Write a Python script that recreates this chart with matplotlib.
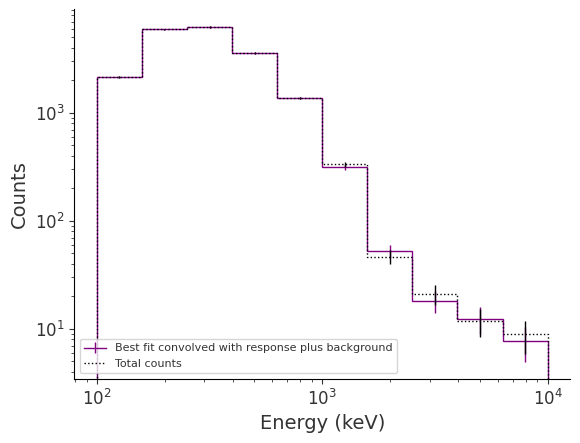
import numpy as np
import matplotlib
matplotlib.use("Agg")
import matplotlib.pyplot as plt
from matplotlib.lines import Line2D

# energy bins (keV), 5 per decade
bin_edges = [100, 158.5, 251.2, 398.1, 631.0, 1000, 1584.9, 2511.9, 3981.1, 6309.6, 10000]
bin_centers = [125.9, 199.5, 316.2, 501.2, 794.3, 1258.9, 1995.3, 3162.3, 5011.9, 7943.3]

# counts
model_counts = [2140, 5960, 6250, 3590, 1370, 314, 53, 18.2, 12.4, 7.7]
model_err = [46, 77, 79, 60, 37, 17.7, 7.3, 4.3, 3.5, 2.8]
total_counts = [2140, 5960, 6250, 3590, 1370, 335, 46.7, 21.1, 11.8, 8.9]
total_err = [46, 77, 79, 60, 37, 18.3, 6.8, 4.6, 3.4, 3.0]

plt.rcParams['text.color'] = '.2'
plt.rcParams['axes.labelcolor'] = '.2'
plt.rcParams['xtick.color'] = '.2'
plt.rcParams['ytick.color'] = '.2'

fig = plt.figure(figsize=(5.8, 4.43), dpi=100)
ax = fig.add_axes([0.128, 0.1445, 0.855, 0.8355])

ax.stairs(model_counts, bin_edges, baseline=1e-2, color='purple', lw=1)
eb_model = ax.errorbar(bin_centers, model_counts, yerr=model_err, fmt='none',
                       ecolor='purple', elinewidth=1)
ax.stairs(total_counts, bin_edges, baseline=1e-2, color='k', ls=':', lw=1)
ax.errorbar(bin_centers, total_counts, yerr=total_err, fmt='none', ecolor='k', elinewidth=1)

ax.set_xscale('log')
ax.set_yscale('log')
ax.set_xlim(79.4, 12589)
ax.set_ylim(3.44, 9200)

ax.spines['top'].set_visible(False)
ax.spines['right'].set_visible(False)
ax.tick_params(labelsize=12)
ax.set_xlabel('Energy (keV)', fontsize=14)
ax.set_ylabel('Counts', fontsize=14)

h_model = (Line2D([], [], color='purple', lw=1), eb_model)
h_total = Line2D([], [], color='k', ls=':', lw=1)
ax.legend([h_model, h_total],
          ['Best fit convolved with response plus background', 'Total counts'],
          loc='lower left', fontsize=8)

fig.savefig('out.png', dpi=100)
